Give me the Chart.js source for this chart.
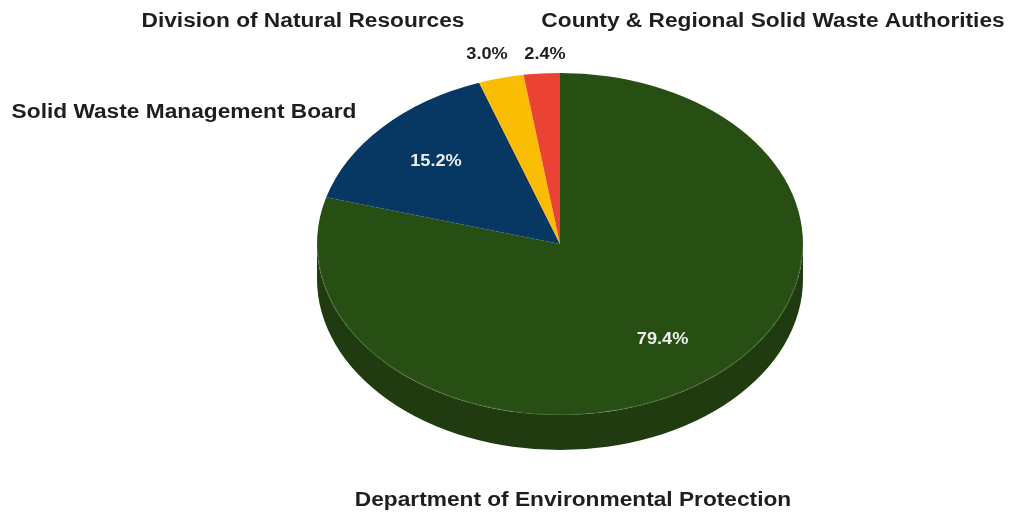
<!DOCTYPE html>
<html>
<head>
<meta charset="utf-8">
<script src="https://cdn.jsdelivr.net/npm/chart.js@4/dist/chart.umd.min.js"></script>
<style>
  html, body { margin: 0; padding: 0; background: #fff; }
  #wrap { position: relative; width: 1015px; height: 512px; }
</style>
</head>
<body>
<div id="wrap"><canvas id="pieChart" width="1015" height="512"></canvas></div>
<script>
const agencies = [
  'Department of Environmental Protection',
  'Solid Waste Management Board',
  'Division of Natural Resources',
  'County & Regional Solid Waste Authorities'
];
const shares = [79.4, 15.2, 3.0, 2.4];
const topColors = ['#274e13', '#073763', '#fbbc04', '#ea4335'];
const sideColors = ['#1f3b0f', '#052a4c', '#c99603', '#bb352a'];

// where the agency names and the small-slice percentages sit
const nameSpots = [[573, 500], [184, 112], [303, 21], [773, 21]];
const outsidePctSpots = [null, null, [487, 55], [545, 55]];

// flattening of the pie into a tilted disc
const tilt = 0.704;
const discCenterY = 244;
const depth = 35;
const textStretch = 1.135;
const nameFont = 'bold 20px "Liberation Sans", Arial, sans-serif';
const pctFont = 'bold 16px "Liberation Sans", Arial, sans-serif';

function squash(ctx, arc) {
  ctx.translate(0, discCenterY);
  ctx.scale(1, tilt);
  ctx.translate(0, -arc.y);
}

function stretchedText(ctx, text, x, y) {
  ctx.save();
  ctx.translate(x, y);
  ctx.scale(textStretch, 1);
  ctx.fillText(text, 0, 0);
  ctx.restore();
}

const tiltPlugin = {
  id: 'tilt',
  beforeDatasetsDraw(chart) {
    const ctx = chart.ctx;
    const arcs = chart.getDatasetMeta(0).data;
    const drop = depth / tilt;
    // side wall: only the front half (angles 0..PI) is visible
    ctx.save();
    squash(ctx, arcs[0]);
    arcs.forEach((arc, i) => {
      const a1 = Math.max(arc.startAngle, 0);
      const a2 = Math.min(arc.endAngle, Math.PI);
      if (a2 <= a1) return;
      const r = arc.outerRadius;
      ctx.beginPath();
      ctx.arc(arc.x, arc.y, r, a1, a2);
      ctx.lineTo(arc.x + Math.cos(a2) * r, arc.y + Math.sin(a2) * r + drop);
      ctx.arc(arc.x, arc.y + drop, r, a2, a1, true);
      ctx.closePath();
      ctx.fillStyle = sideColors[i];
      ctx.fill();
    });
    ctx.restore();
    ctx.save();
    squash(ctx, arcs[0]);
  },
  afterDatasetsDraw(chart) {
    const ctx = chart.ctx;
    const arc = chart.getDatasetMeta(0).data[0];
    // faint rim where the top face meets the wall
    ctx.beginPath();
    ctx.arc(arc.x, arc.y, arc.outerRadius - 0.5, 0.05, Math.PI - 0.05);
    ctx.restore();
    ctx.strokeStyle = 'rgba(255,255,255,0.12)';
    ctx.lineWidth = 1;
    ctx.stroke();
  },
  afterDraw(chart) {
    const ctx = chart.ctx;
    const arcs = chart.getDatasetMeta(0).data;
    ctx.save();
    ctx.textAlign = 'center';
    ctx.textBaseline = 'middle';
    arcs.forEach((arc, i) => {
      const pct = shares[i].toFixed(1) + '%';
      ctx.font = pctFont;
      if (outsidePctSpots[i]) {
        ctx.fillStyle = '#1e1e1e';
        stretchedText(ctx, pct, outsidePctSpots[i][0], outsidePctSpots[i][1]);
      } else {
        const mid = (arc.startAngle + arc.endAngle) / 2;
        const r = arc.outerRadius * 0.7;
        const x = arc.x + Math.cos(mid) * r;
        const y = discCenterY + Math.sin(mid) * r * tilt;
        ctx.fillStyle = '#eeeeee';
        stretchedText(ctx, pct, x, y);
      }
      ctx.fillStyle = '#1e1e1e';
      ctx.font = nameFont;
      stretchedText(ctx, agencies[i], nameSpots[i][0], nameSpots[i][1]);
    });
    ctx.restore();
  }
};

new Chart(document.getElementById('pieChart'), {
  type: 'pie',
  data: {
    labels: agencies,
    datasets: [{
      data: shares,
      backgroundColor: topColors,
      borderWidth: 0,
      clip: false
    }]
  },
  options: {
    responsive: false,
    animation: false,
    layout: { padding: { left: 317, right: 212, top: 13, bottom: 13 } },
    plugins: {
      legend: { display: false },
      tooltip: { enabled: false }
    }
  },
  plugins: [tiltPlugin]
});
</script>
</body>
</html>
